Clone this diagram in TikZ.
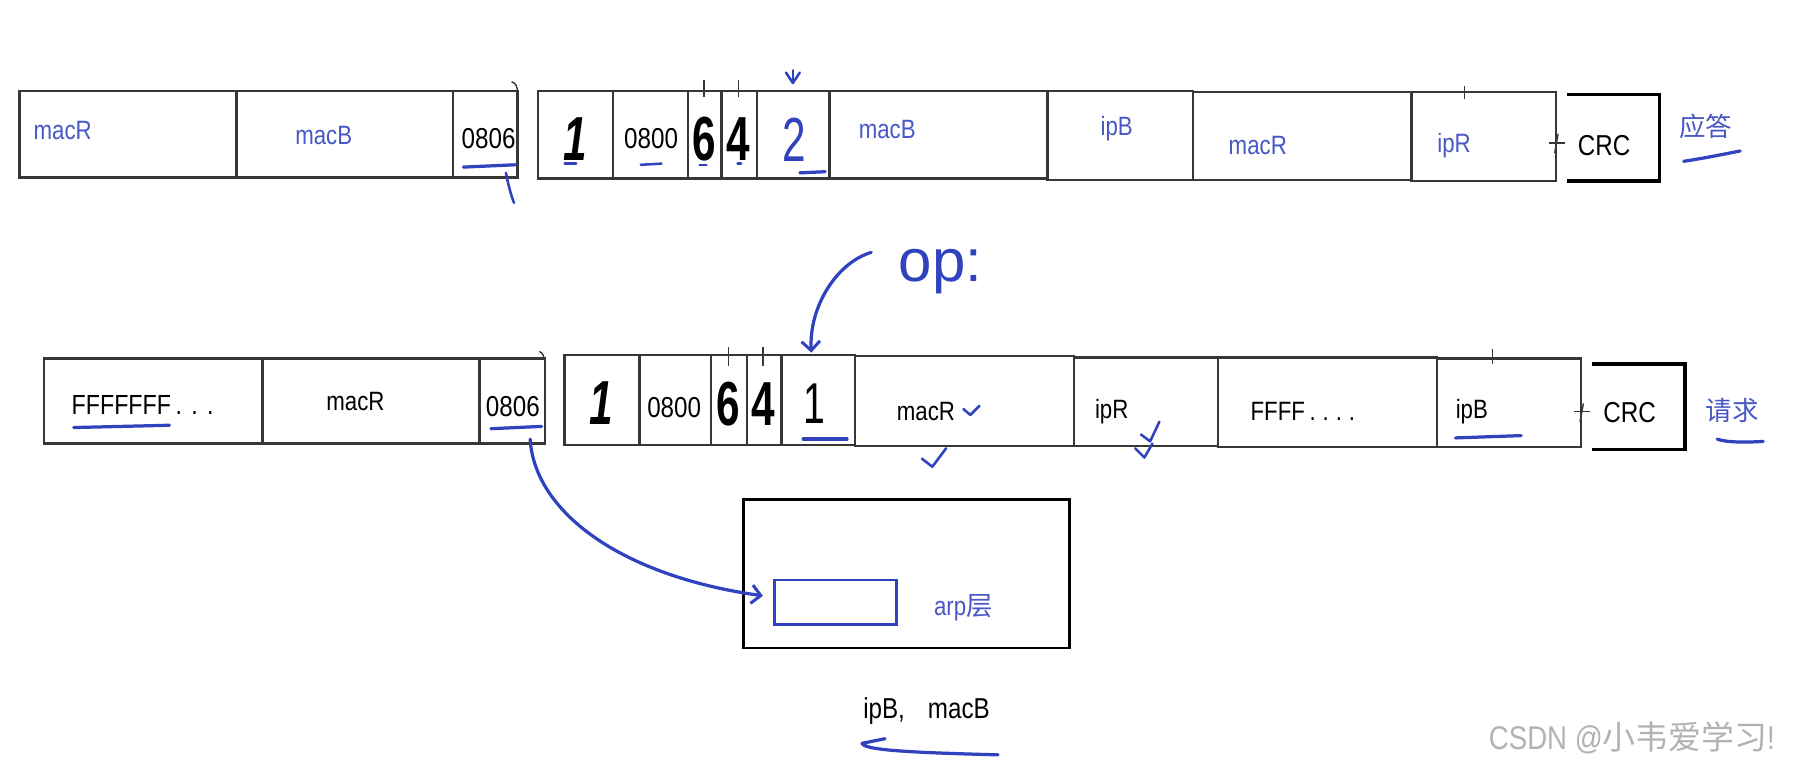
\documentclass[tikz,border=0pt]{standalone}
\usepackage{fontspec}
\setmainfont{Liberation Sans}[FakeStretch=0.84]
\newfontfamily\hand{Liberation Sans}[FakeStretch=0.68]
\newfontfamily\plainsans{Liberation Sans}
\newfontfamily\cjk{Noto Sans CJK SC}
\usetikzlibrary{arrows.meta}
\definecolor{pen}{RGB}{48,66,190}
\definecolor{lbl}{RGB}{72,88,198}
\definecolor{framec}{RGB}{55,55,55}
\newcommand\mycell[5]{\node[cellbox, minimum width={(#3-#2)*1pt}, minimum height={(#5-#4)*1pt}] (#1) at (#2,#4) {};}
\begin{document}
\begin{tikzpicture}[x=1pt,y=-1pt,
  cellbox/.style={draw=framec, line width=2.2pt, inner sep=0pt, outer sep=0pt, anchor=north west},
  lab/.style={inner sep=0pt, font=\fontsize{23}{26}\selectfont},
  bluelab/.style={lab, text=lbl},
  numlab/.style={inner sep=0pt, font=\fontsize{25}{28}\selectfont},
  big/.style={inner sep=0pt, font=\hand\fontsize{54}{58}\selectfont\bfseries},
  cjklab/.style={inner sep=0pt, text=lbl, font=\cjk\fontsize{23}{26}\selectfont},
  ink/.style={draw=pen, line width=2.8pt, line cap=round, line join=round},
  thinink/.style={draw=pen, line width=2.2pt, line cap=round, line join=round},
  crcbox/.style={draw=none, minimum width=80pt, minimum height=75pt, inner sep=0pt},
  crcline/.style={draw=black, line width=3pt},
  tick/.style={draw=framec, line width=1.2pt},
  barb/.style={-{Straight Barb[length=8pt,width=16pt,line width=2.6pt]}}]
\useasboundingbox[fill=white] (0,0) rectangle (1568,671);

% ---------- top row (reply) ----------
\mycell{tMacR}{17}{205}{79}{154}
\mycell{tMacB}{205}{393}{79}{154}
\mycell{tType}{393}{449}{79}{154}
\mycell{tHw}{467}{532}{79}{155}
\mycell{tPro}{532}{597}{79}{155}
\mycell{tHl}{597}{626}{79}{155}
\mycell{tPl}{626}{657}{79}{155}
\mycell{tOp}{657}{720}{79}{155}
\mycell{tSmac}{720}{909}{79}{155}
\mycell{tSip}{909}{1035}{79}{156}
\mycell{tDmac}{1035}{1225}{80}{156}
\mycell{tDip}{1225}{1350}{80}{157}
\node[crcbox] (tCrc) at (1400,119.5) {};
\draw[crcline] (tCrc.north west) -- (tCrc.north east) -- (tCrc.south east) -- (tCrc.south west);

\node[bluelab, anchor=west] (tL1) at (29,113) {macR};
\node[bluelab, anchor=west] (tL2) at (256,118) {macB};
\node[numlab] (tL3) at (424,120) {0806};
\node[big, font=\hand\fontsize{54}{58}\selectfont\bfseries\itshape] (tL4) at (499,121) {1};
\node[numlab] (tL5) at (565,120) {0800};
\node[big] (tL6) at (611,121) {6};
\node[big] (tL7) at (641,121) {4};
\node[big, text=pen, font=\hand\fontsize{54}{58}\selectfont] (tL8) at (689,121) {2};
\node[bluelab, anchor=west] (tL9) at (745,112) {macB};
\node[bluelab] (tL10) at (969,112) {ipB};
\node[bluelab, anchor=west] (tL11) at (1066,126) {macR};
\node[bluelab, anchor=west] (tL12) at (1247,126) {ipR};
\node[numlab] (tL13) at (1392,126) {CRC};
\node[cjklab] (tL14) at (1480,110) {应答};

% top marks
\draw[tick] (611,69) -- (611,84);
\draw[tick] (641,69) -- (641,84);
\draw[tick] (1271,75) -- (1271,86);
\draw[tick] (1352,116) -- (1349,133);
\draw[tick] (1344,124) -- (1358,124);
\draw[tick] (444,71) .. controls (448,72) and (449,76) .. (449,80);
\draw[ink] (402,145) -- (447,143);
\draw[thinink] (439,150) .. controls (441,160) and (443,168) .. (446,176);
\draw[thinink] (490,142) -- (500,142);
\draw[thinink] (556,143) -- (574,142);
\draw[thinink] (607,143) -- (613,143);
\draw[thinink] (640,142) -- (643,142);
\draw[ink] (694,150) -- (716,149);
\draw[thinink] (688,61) -- (688,72);
\draw[thinink] (682,63) -- (688,72) -- (694,63);
\draw[ink] (1461,140) .. controls (1480,137) and (1495,134) .. (1510,131);

% ---------- op label and arrow ----------
\node[inner sep=0pt, text=pen, font=\plainsans\fontsize{52}{56}\selectfont] (opTxt) at (816,236) {op:};
\coordinate (opStart) at (756,219);
\coordinate (opEnd) at (704,306);
\draw[ink, barb] (opStart) .. controls (726,228) and (702,266) .. (opEnd);

% ---------- bottom row (request) ----------
\mycell{bDst}{38}{228}{311}{385}
\mycell{bSrc}{228}{416}{311}{385}
\mycell{bType}{416}{473}{311}{385}
\mycell{bHw}{490}{555}{308}{386}
\mycell{bPro}{555}{617}{308}{386}
\mycell{bHl}{617}{648}{308}{386}
\mycell{bPl}{648}{678}{308}{386}
\mycell{bOp}{678}{742}{308}{386}
\mycell{bSmac}{742}{932}{309}{387}
\mycell{bSip}{932}{1057}{310}{387}
\mycell{bDmac}{1057}{1247}{310}{388}
\mycell{bDip}{1247}{1372}{311}{388}
\node[crcbox, minimum height=74pt] (bCrc) at (1422,353) {};
\draw[crcline] (bCrc.north west) -- (bCrc.north east) -- (bCrc.south east) -- (bCrc.south west);

\node[lab, anchor=west, font=\fontsize{24}{27}\selectfont] (bL1) at (62,351) {FFFFFFF\hspace{4pt}.\hspace{8pt}.\hspace{8pt}.};
\node[lab, anchor=west] (bL2) at (283,348) {macR};
\node[numlab] (bL3) at (445,353) {0806};
\node[big, font=\hand\fontsize{54}{58}\selectfont\bfseries\itshape] (bL4) at (522,350) {1};
\node[numlab] (bL5) at (585,354) {0800};
\node[big] (bL6) at (632,351) {6};
\node[big] (bL7) at (662,351) {4};
\node[big, font=\hand\fontsize{50}{54}\selectfont] (bL8) at (707,350) {1};
\node[lab, anchor=west] (bL9) at (778,357) {macR};
\node[lab, anchor=west] (bL10) at (950,357) {ipR};
\node[lab, anchor=west] (bL11) at (1085,357) {FFFF\hspace{4pt}.\hspace{6pt}.\hspace{6pt}.\hspace{6pt}.};
\node[lab, anchor=west] (bL12) at (1263,357) {ipB};
\node[numlab] (bL13) at (1414,358) {CRC};
\node[cjklab] (bL14) at (1503,356) {请求};

% bottom marks
\draw[tick] (632,301) -- (632,318);
\draw[tick] (662,301) -- (662,318);
\draw[tick] (1295,303) -- (1295,316);
\draw[tick] (1374,350) -- (1371,366);
\draw[tick] (1366,357) -- (1380,357);
\draw[tick] (468,305) .. controls (471,306) and (472,309) .. (472,312);
\draw[ink] (64,371) -- (147,369);
\draw[ink] (426,372) -- (470,370);
\draw[ink] (697,381) -- (735,381);
\draw[thinink] (836,355) -- (842,360) -- (850,352);
\draw[thinink] (800,398) -- (809,405) -- (821,389);
\draw[thinink] (990,377) -- (998,383) -- (1006,366);
\draw[thinink] (985,389) -- (993,397) -- (1000,385);
\draw[ink] (1263,380) -- (1320,378);
\draw[ink] (1490,381) .. controls (1498,384) and (1515,384) .. (1530,383);

% ---------- host with arp layer ----------
\node[draw=black, line width=2.4pt, inner sep=0pt, anchor=north west, minimum width=283pt, minimum height=129pt] (host) at (644,432) {};
\node[draw=pen, line width=2pt, inner sep=0pt, anchor=north west, minimum width=106pt, minimum height=39pt] (arpbuf) at (671,502) {};
\node[inner sep=0pt, text=lbl, font=\fontsize{23}{26}\selectfont] (arpTxt) at (836,527) {arp{\cjk 层}};
\coordinate (typeStart) at (460,381);
\coordinate (arpIn) at (662,517);
\draw[ink, barb] (typeStart) .. controls (464,445) and (540,500) .. (arpIn);

% ---------- result ----------
\node[lab, font=\fontsize{25}{28}\selectfont] (result) at (804,617) {ipB,\hspace{20pt}macB};
\draw[ink] (768,641) -- (748,645) .. controls (750,651) and (790,653) .. (866,655);

% watermark
\node[inner sep=0pt, text=black!30, font=\fontsize{28.5}{31}\selectfont] (wm) at (1416,640) {CSDN @{\cjk 小韦爱学习}!};
\end{tikzpicture}
\end{document}
